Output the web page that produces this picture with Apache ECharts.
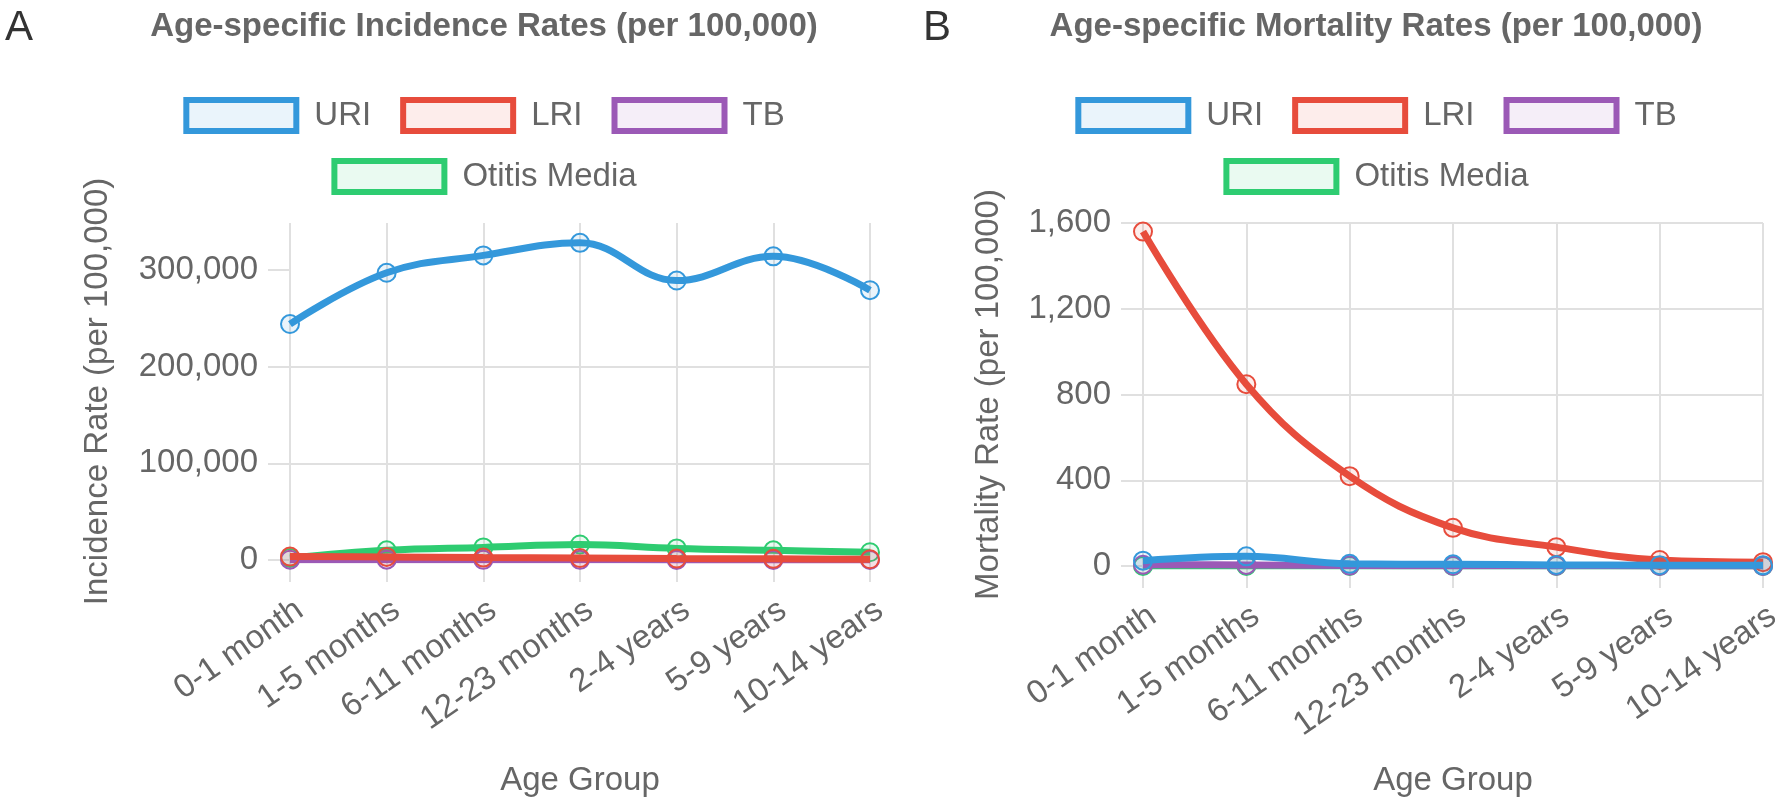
<!DOCTYPE html>
<html>
<head>
<meta charset="utf-8">
<script src="https://cdn.jsdelivr.net/npm/echarts@6.0.0/dist/echarts.min.js"></script>
<style>
  html, body { margin: 0; padding: 0; background: #fff; }
  #wrap { position: relative; width: 1784px; height: 803px; }
  #left { position: absolute; left: 0; top: 0; width: 968px; height: 803px; }
  #right { position: absolute; left: 968px; top: 0; width: 816px; height: 803px; }
</style>
</head>
<body>
<div id="wrap">
  <div id="left"></div>
  <div id="right"></div>
</div>
<script>
var categories = ['0-1 month', '1-5 months', '6-11 months', '12-23 months', '2-4 years', '5-9 years', '10-14 years'];

// incidence per 100,000
var incURI = [244000, 297000, 315000, 328000, 289000, 314000, 279000];
var incLRI = [3500, 3200, 2500, 2000, 1500, 1200, 800];
var incTB = [300, 300, 200, 200, 100, 100, 100];
var incOM = [2000, 10000, 13000, 16000, 12000, 10000, 8000];
var incTicks = [0, 100000, 200000, 300000];

// mortality per 100,000
var morURI = [25, 45, 10, 8, 5, 4, 3];
var morLRI = [1560, 848, 419, 178, 88, 28, 18];
var morTB = [6, 5, 2, 1, 1, 0.5, 0.5];
var morOM = [0, 0, 0, 0, 0, 0, 0];
var morTicks = [0, 400, 800, 1200, 1600];

var names = ['URI', 'LRI', 'TB', 'Otitis Media'];
var colors = ['#3498db', '#e74c3c', '#9b59b6', '#2ecc71'];
var fills = ['rgba(52,152,219,0.1)', 'rgba(231,76,60,0.1)', 'rgba(155,89,182,0.1)', 'rgba(46,204,113,0.1)'];

var FONT = '"Liberation Sans", Arial, sans-serif';
var GRID = '#e0e0e0';
var TXT = '#666';

function legendItems(list) {
    return list.map(function (n) {
        var i = names.indexOf(n);
        return { name: n, itemStyle: { color: fills[i], borderColor: colors[i], borderWidth: 6 } };
    });
}

function makeLegend(list, top) {
    return {
        left: 'center',
        top: top,
        padding: 0,
        icon: 'rect',
        itemWidth: 110,
        itemHeight: 31,
        itemGap: 29,
        textStyle: { fontFamily: FONT, fontSize: 33, color: TXT, padding: [0, 0, 0, 13] },
        selectedMode: false,
        data: legendItems(list)
    };
}

function makeOption(cfg) {
    var series = cfg.data.map(function (d, i) {
        return {
            name: names[i],
            type: 'line',
            data: d,
            smooth: 0.4,
            symbol: 'circle',
            symbolSize: 18,
            z: 10 - i,
            lineStyle: { color: colors[i], width: 7 },
            itemStyle: { color: fills[i], borderColor: colors[i], borderWidth: 2 },
            emphasis: { disabled: true }
        };
    });

    var titles = [{
        text: cfg.title,
        left: 'center',
        top: 5,
        textStyle: { fontFamily: FONT, fontSize: 33, fontWeight: 'bold', color: TXT }
    }];
    if (cfg.letters) {
        cfg.letters.forEach(function (l) {
            titles.push({
                text: l.text,
                left: l.x,
                top: 2,
                textStyle: { fontFamily: '"Liberation Sans Narrow", "Liberation Sans", sans-serif', fontSize: 42, fontWeight: 'normal', color: '#333' }
            });
        });
    }

    return {
        animation: false,
        title: titles,
        legend: [makeLegend(['URI', 'LRI', 'TB'], 97), makeLegend(['Otitis Media'], 158)],
        grid: cfg.grid,
        xAxis: {
            type: 'category',
            data: categories,
            boundaryGap: false,
            axisLine: { show: false },
            axisTick: { show: true, length: 22, lineStyle: { color: GRID, width: 2 } },
            splitLine: { show: true, lineStyle: { color: GRID, width: 2 } },
            axisLabel: {
                interval: 0,
                rotate: 35,
                margin: 54,
                padding: [0, -12, 0, 0],
                fontFamily: FONT,
                fontSize: 33,
                color: TXT
            },
            name: 'Age Group',
            nameLocation: 'middle',
            nameGap: cfg.xNameGap,
            nameTextStyle: { fontFamily: FONT, fontSize: 33, color: TXT }
        },
        yAxis: {
            type: 'value',
            min: 0,
            max: cfg.max,
            interval: cfg.ticks[1] - cfg.ticks[0],
            axisLine: { show: false },
            axisTick: { show: true, length: 22, customValues: cfg.ticks, lineStyle: { color: GRID, width: 2 } },
            splitLine: { show: true, showMaxLine: cfg.maxLine, lineStyle: { color: GRID, width: 2 } },
            axisLabel: {
                customValues: cfg.ticks,
                margin: 32,
                fontFamily: FONT,
                fontSize: 33,
                color: TXT,
                formatter: function (v) { return v.toLocaleString('en-US'); }
            },
            name: cfg.yName,
            nameLocation: 'middle',
            nameRotate: 90,
            nameGap: cfg.yNameGap,
            nameTextStyle: { fontFamily: FONT, fontSize: 33, color: TXT }
        },
        series: series
    };
}

var leftChart = echarts.init(document.getElementById('left'));
leftChart.setOption(makeOption({
    title: 'Age-specific Incidence Rates (per 100,000)',
    letters: [{ text: 'A', x: 0 }, { text: 'B', x: 918 }],
    grid: { left: 290, right: 98, top: 223, bottom: 243, outerBoundsMode: 'none' },
    data: [incURI, incLRI, incTB, incOM],
    ticks: incTicks,
    max: 348500,
    maxLine: false,
    yName: 'Incidence Rate (per 100,000)',
    yNameGap: 176,
    xNameGap: 204
}));

var rightChart = echarts.init(document.getElementById('right'));
rightChart.setOption(makeOption({
    title: 'Age-specific Mortality Rates (per 100,000)',
    grid: { left: 175, right: 21, top: 223, bottom: 237, outerBoundsMode: 'none' },
    data: [morURI, morLRI, morTB, morOM],
    ticks: morTicks,
    max: 1600,
    maxLine: true,
    yName: 'Mortality Rate (per 100,000)',
    yNameGap: 138,
    xNameGap: 198
}));
</script>
</body>
</html>
